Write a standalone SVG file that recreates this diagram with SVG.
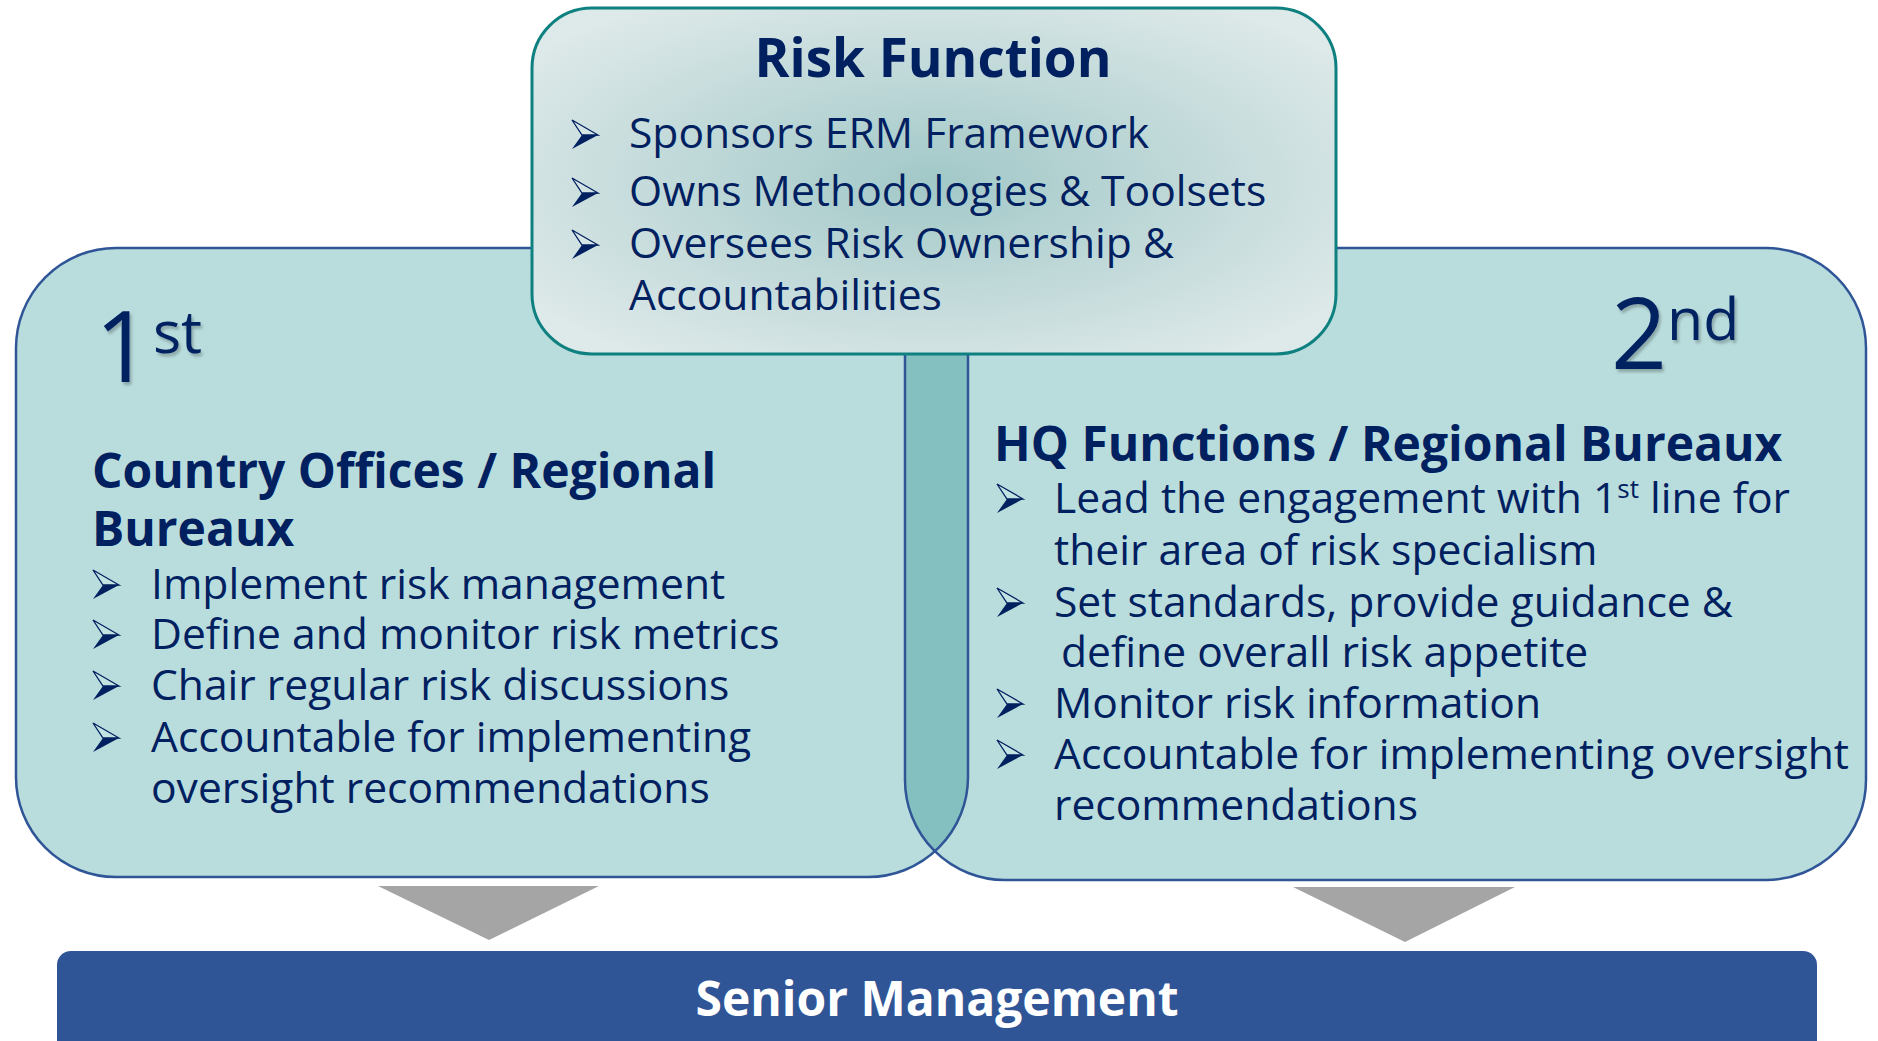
<svg xmlns="http://www.w3.org/2000/svg" xmlns:xlink="http://www.w3.org/1999/xlink" width="1878" height="1041" viewBox="0 0 1878 1041">
<style>
  .t { font-family: "Open Sans", "Noto Sans", "Liberation Sans", sans-serif; fill: #002060; }
  .b { font-size: 42.6px; }
  .h { font-size: 48px; font-weight: 700; }
  .big { font-size: 98px; }
  .sup { font-size: 59px; }
  .box { fill: #B9DDDD; }
  .outline { fill: none; stroke: #2F5597; stroke-width: 2.5; }
  .tri { fill: #A5A5A5; }
</style>
<defs>
  <radialGradient id="rg" cx="0.5" cy="0.5" r="0.62">
    <stop offset="0" stop-color="#A2C8C8"/>
    <stop offset="1" stop-color="#DEE9E9"/>
  </radialGradient>
  <clipPath id="clipLeft"><rect x="16" y="248" width="952" height="629" rx="100" ry="100"/></clipPath>
  <clipPath id="clipRight"><rect x="905" y="248" width="961" height="632" rx="100" ry="100"/></clipPath>
  <g id="arrow">
    <path d="M0,0 L26,15 L10,15 Z" fill="#FFFFFF" fill-opacity="0.15" stroke="#002060" stroke-width="1.3" stroke-linejoin="miter"/>
    <path d="M10,15 L26,15 L0,29 Z" fill="#002060"/>
  </g>
  <filter id="sh" x="-10%" y="-10%" width="130%" height="130%">
    <feDropShadow dx="2" dy="3" stdDeviation="1.5" flood-color="#000000" flood-opacity="0.25"/>
  </filter>
</defs>

<g id="node-first-line">
  <rect class="box" x="16" y="248" width="952" height="629" rx="100" ry="100"/>
  <rect class="outline" x="16" y="248" width="952" height="629" rx="100" ry="100"/>
</g>

<g id="node-second-line">
  <rect class="box" x="905" y="248" width="961" height="632" rx="100" ry="100"/>
  <rect x="905" y="248" width="961" height="632" rx="100" ry="100" fill="#85C0C0" clip-path="url(#clipLeft)"/>
  <rect class="outline" x="16" y="248" width="952" height="629" rx="100" ry="100" clip-path="url(#clipRight)"/>
  <rect class="outline" x="905" y="248" width="961" height="632" rx="100" ry="100"/>
</g>

<g id="node-risk-function">
  <rect x="532" y="8" width="804" height="346" rx="60" ry="60" fill="url(#rg)" stroke="#0E8080" stroke-width="3"/>
  <text class="t" x="933" y="77" text-anchor="middle" style="font-size:53px;font-weight:700">Risk Function</text>
  <use xlink:href="#arrow" href="#arrow" x="572" y="120"/>
  <text class="t b" x="629" y="148">Sponsors ERM Framework</text>
  <use xlink:href="#arrow" href="#arrow" x="572" y="178"/>
  <text class="t b" x="629" y="206">Owns Methodologies &amp; Toolsets</text>
  <use xlink:href="#arrow" href="#arrow" x="572" y="230"/>
  <text class="t b" x="629" y="258">Oversees Risk Ownership &amp;</text>
  <text class="t b" x="629" y="310">Accountabilities</text>
</g>

<g id="first-line-text">
  <text class="t big" x="95" y="382" filter="url(#sh)">1<tspan class="sup" x="153" y="353">st</tspan></text>
  <text class="t h" x="92" y="488">Country Offices / Regional</text>
  <text class="t h" x="92" y="546">Bureaux</text>
  <use xlink:href="#arrow" href="#arrow" x="93" y="570"/>
  <text class="t b" x="151" y="599">Implement risk management</text>
  <use xlink:href="#arrow" href="#arrow" x="93" y="620"/>
  <text class="t b" x="151" y="649">Define and monitor risk metrics</text>
  <use xlink:href="#arrow" href="#arrow" x="93" y="671"/>
  <text class="t b" x="151" y="700">Chair regular risk discussions</text>
  <use xlink:href="#arrow" href="#arrow" x="93" y="723"/>
  <text class="t b" x="151" y="752">Accountable for implementing</text>
  <text class="t b" x="151" y="803">oversight recommendations</text>
</g>

<g id="second-line-text">
  <text class="t big" x="1611" y="369" filter="url(#sh)">2<tspan class="sup" x="1667" y="340">nd</tspan></text>
  <text class="t h" x="994" y="461">HQ Functions / Regional Bureaux</text>
  <use xlink:href="#arrow" href="#arrow" x="997" y="484"/>
  <text class="t b" x="1054" y="513">Lead the engagement with 1<tspan dy="-15" style="font-size:26px">st</tspan><tspan dy="15"> line for</tspan></text>
  <text class="t b" x="1054" y="565">their area of risk specialism</text>
  <use xlink:href="#arrow" href="#arrow" x="997" y="588"/>
  <text class="t b" x="1054" y="617">Set standards, provide guidance &amp;</text>
  <text class="t b" x="1061" y="667">define overall risk appetite</text>
  <use xlink:href="#arrow" href="#arrow" x="997" y="689"/>
  <text class="t b" x="1054" y="718">Monitor risk information</text>
  <use xlink:href="#arrow" href="#arrow" x="997" y="740"/>
  <text class="t b" x="1054" y="769">Accountable for implementing oversight</text>
  <text class="t b" x="1054" y="820">recommendations</text>
</g>

<g id="connectors">
  <polygon class="tri" points="378,886 599,886 489,940"/>
  <polygon class="tri" points="1293,887 1515,887 1405,942"/>
</g>

<g id="node-senior-management">
  <rect x="57" y="951" width="1760" height="120" rx="14" ry="14" fill="#2F5597"/>
  <text x="937" y="1016" text-anchor="middle" style="font-family:'Open Sans','Noto Sans','Liberation Sans',sans-serif;font-size:48px;font-weight:700;fill:#FFFFFF">Senior Management</text>
</g>
</svg>
